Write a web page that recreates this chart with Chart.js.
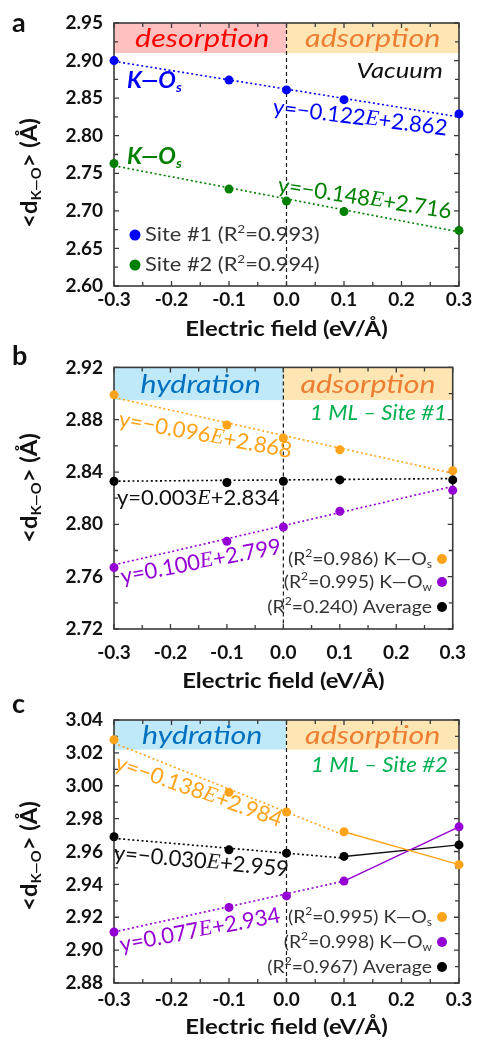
<!DOCTYPE html>
<html>
<head>
<meta charset="utf-8">
<script src="https://cdn.jsdelivr.net/npm/chart.js@4.4.1/dist/chart.umd.min.js"></script>
<style>
  html, body { margin: 0; padding: 0; background: #fff; }
  #wrap { position: relative; width: 478px; height: 1040px; overflow: hidden; }
  canvas { position: absolute; left: 0; }
</style>
</head>
<body>
<div id="wrap">
  <canvas id="chartA" width="478" height="345" style="top:0"></canvas>
  <canvas id="chartB" width="478" height="345" style="top:345px"></canvas>
  <canvas id="chartC" width="478" height="350" style="top:690px"></canvas>
</div>
<script>
/* ---------- data ---------- */
var FIELD   = [-0.3, -0.1, 0.0, 0.1, 0.3];        // eV/Å
var X_TICKS = [-0.3, -0.2, -0.1, 0.0, 0.1, 0.2, 0.3];
var FIT_X   = [-0.3, 0.3];
var FIT_X_C = [-0.3, 0.1];
var BAND_SPLIT = 0.0;

// (a) vacuum
var A_SITE1 = [2.900, 2.874, 2.861, 2.848, 2.829];
var A_SITE2 = [2.763, 2.729, 2.713, 2.699, 2.674];
var A_FIT1  = [2.899, 2.825];
var A_FIT2  = [2.760, 2.672];
var A_YTICKS = [2.60, 2.65, 2.70, 2.75, 2.80, 2.85, 2.90, 2.95];
var A_BAND_LO = 2.91;

// (b) 1 ML - site #1
var B_KOS = [2.899, 2.876, 2.866, 2.857, 2.841];
var B_KOW = [2.767, 2.787, 2.798, 2.810, 2.826];
var B_AVG = [2.833, 2.832, 2.833, 2.834, 2.834];
var B_FIT_OS  = [2.897, 2.839];
var B_FIT_OW  = [2.769, 2.829];
var B_FIT_AVG = [2.833, 2.835];
var B_YTICKS = [2.72, 2.76, 2.80, 2.84, 2.88, 2.92];
var B_BAND_LO = 2.895;

// (c) 1 ML - site #2
var C_KOS = [3.028, 2.996, 2.984, 2.972, 2.952];
var C_KOW = [2.911, 2.926, 2.933, 2.942, 2.975];
var C_AVG = [2.969, 2.961, 2.959, 2.957, 2.964];
var C_FIT_OS  = [3.026, 2.970];
var C_FIT_OW  = [2.911, 2.942];
var C_FIT_AVG = [2.968, 2.956];
var C_YTICKS = [2.88, 2.90, 2.92, 2.94, 2.96, 2.98, 3.00, 3.02, 3.04];
var C_BAND_LO = 3.022;

/* ---------- styles ---------- */
var FONT  = 'Lato, "Open Sans", "DejaVu Sans", sans-serif';
var SERIF = '"Liberation Serif", "DejaVu Serif", serif';
var BLUE = '#0000ff', GREEN = '#008000', ORANGE = '#ffa31a', PURPLE = '#9400d3', BLACK = '#000000';
var PLOT_LEFT = 114, PLOT_RIGHT_PAD = 19;

function pts(xs, ys) { return xs.map(function(x, i) { return { x: x, y: ys[i] }; }); }
function dots(ys, color) {
  return { data: pts(FIELD, ys), backgroundColor: color, borderColor: color, pointRadius: 4.5,
           pointBorderWidth: 0, showLine: false, clip: false, order: 0 };
}
function fit(xs, ys, color) {
  return { data: pts(xs, ys), borderColor: color, borderWidth: 1.6, borderDash: [2, 2.6],
           pointRadius: 0, showLine: true, clip: false, order: 1 };
}
function seg(ys, color) {
  return { data: pts(FIELD.slice(3), ys.slice(3)), borderColor: color, borderWidth: 1.4,
           pointRadius: 0, showLine: true, clip: false, order: 1 };
}
function eq(a, b) { return [{ t: a }, { t: 'E', serif: true, italic: true }, { t: b }]; }
function r2(pre, val, post) { return [{ t: pre + '(R' }, { t: '2', sup: true }, { t: '=' + val + ')' + post }]; }

// text with sub/superscripts, optional rotation and horizontal stretch
function drawRich(ctx, parts, x, y, o) {
  var size = o.size, sx = o.sx || 1;
  function fontOf(p) {
    var s = (p.sub || p.sup) ? size * 0.62 : size;
    return ((p.italic || o.italic) ? 'italic ' : '') + (o.bold ? 'bold ' : '') + s + 'px ' + (p.serif ? SERIF : FONT);
  }
  var widths = parts.map(function(p) { ctx.font = fontOf(p); return ctx.measureText(p.t).width; });
  var total = widths.reduce(function(s, w) { return s + w; }, 0);
  ctx.save();
  ctx.translate(x, y);
  if (o.angle) ctx.rotate(o.angle * Math.PI / 180);
  ctx.scale(sx, 1);
  var cx = o.align === 'right' ? -total : (o.align === 'center' ? -total / 2 : 0);
  ctx.textAlign = 'left';
  ctx.textBaseline = 'middle';
  ctx.fillStyle = o.color || '#111';
  parts.forEach(function(p, i) {
    ctx.font = fontOf(p);
    var dy = p.sub ? size * 0.3 : (p.sup ? -size * 0.32 : 0);
    ctx.fillText(p.t, cx, dy);
    cx += widths[i];
  });
  ctx.restore();
}

function mids(arr) {
  var out = [];
  for (var i = 0; i < arr.length - 1; i++) out.push((arr[i] + arr[i + 1]) / 2);
  return out;
}

var decor = {
  id: 'decor',
  beforeDatasetsDraw: function(chart, args, o) {
    var ctx = chart.ctx, a = chart.chartArea, xs = chart.scales.x, ys = chart.scales.y;
    var xm = xs.getPixelForValue(BAND_SPLIT), yb = ys.getPixelForValue(o.bandLo);
    ctx.save();
    // region bands
    ctx.fillStyle = o.bandLeft;  ctx.fillRect(a.left, a.top, xm - a.left, yb - a.top);
    ctx.fillStyle = o.bandRight; ctx.fillRect(xm, a.top, a.right - xm, yb - a.top);
    var ty = (a.top + yb) / 2 + 1;
    drawRich(ctx, [{ t: o.leftText }], (a.left + xm) / 2 + 2, ty,
             { size: 26, italic: true, sx: 1.17, align: 'center', color: o.leftColor });
    drawRich(ctx, [{ t: o.rightText }], (xm + a.right) / 2, ty,
             { size: 26, italic: true, sx: 1.17, align: 'center', color: o.rightColor });
    // E = 0 dashed line
    ctx.strokeStyle = '#1a1a1a';
    ctx.lineWidth = 1.2;
    ctx.setLineDash([4, 3]);
    ctx.beginPath(); ctx.moveTo(xm, a.top); ctx.lineTo(xm, a.bottom); ctx.stroke();
    ctx.setLineDash([]);
    // frame
    ctx.strokeStyle = '#3a3a3a';
    ctx.lineWidth = 1.6;
    ctx.strokeRect(a.left, a.top, a.right - a.left, a.bottom - a.top);
    // inward ticks
    ctx.lineWidth = 1.3;
    ctx.beginPath();
    function yTick(v, len) {
      var p = ys.getPixelForValue(v);
      ctx.moveTo(a.left, p); ctx.lineTo(a.left + len, p);
      ctx.moveTo(a.right, p); ctx.lineTo(a.right - len, p);
    }
    function xTick(v, len) {
      var p = xs.getPixelForValue(v);
      ctx.moveTo(p, a.bottom); ctx.lineTo(p, a.bottom - len);
      ctx.moveTo(p, a.top); ctx.lineTo(p, a.top + len);
    }
    o.yTicks.forEach(function(v) { yTick(v, 5); });
    mids(o.yTicks).forEach(function(v) { yTick(v, 4); });
    X_TICKS.forEach(function(v) { xTick(v, 5); });
    mids(X_TICKS).forEach(function(v) { xTick(v, 4); });
    ctx.stroke();
    ctx.restore();
  },
  afterDraw: function(chart, args, o) {
    var ctx = chart.ctx, a = chart.chartArea;
    ctx.save();
    // panel letter
    ctx.font = 'bold 27px ' + FONT;
    ctx.fillStyle = '#111';
    ctx.textAlign = 'left';
    ctx.textBaseline = 'alphabetic';
    ctx.fillText(o.letter, 12, o.letterY);
    // axis titles
    drawRich(ctx, [{ t: '<d' }, { t: 'K—O', sub: true }, { t: '> (Å)' }], 30, o.yTitleY,
             { size: 22, bold: true, angle: -90, sx: 1.08, align: 'center', color: '#111' });
    drawRich(ctx, [{ t: 'Electric field (eV/Å)' }], (a.left + a.right) / 2, o.xTitleY,
             { size: 21, bold: true, sx: 1.14, align: 'center', color: '#111' });
    // annotations
    o.notes.forEach(function(n) { drawRich(ctx, n.parts, n.x, n.y, n); });
    // legend
    var L = o.legend;
    L.items.forEach(function(it, i) {
      var y = L.ys[i];
      ctx.fillStyle = it.color;
      ctx.beginPath(); ctx.arc(L.dotX, y, L.r, 0, Math.PI * 2); ctx.fill();
      drawRich(ctx, it.parts, L.textX, y, { size: L.size, sx: L.sx, align: L.align, color: '#333' });
    });
    ctx.restore();
  }
};

function makeChart(id, cfg) {
  var yt = cfg.decor.yTicks;
  return new Chart(document.getElementById(id), {
    type: 'scatter',
    data: { datasets: cfg.datasets },
    options: {
      responsive: false,
      animation: false,
      devicePixelRatio: 1,
      layout: { padding: { left: 0, right: PLOT_RIGHT_PAD, top: cfg.top, bottom: 0 } },
      plugins: { legend: { display: false }, tooltip: { enabled: false }, decor: cfg.decor },
      scales: {
        x: {
          type: 'linear', min: X_TICKS[0], max: X_TICKS[X_TICKS.length - 1],
          afterBuildTicks: function(s) { s.ticks = X_TICKS.map(function(v) { return { value: v }; }); },
          afterFit: function(s) { s.height = cfg.h - cfg.bottom; },
          grid: { display: false, drawTicks: false }, border: { display: false },
          ticks: { padding: cfg.xPad, color: '#111', maxRotation: 0, autoSkip: false,
                   font: { family: FONT, size: 19, weight: 'bold' },
                   callback: function(v) { return Math.abs(v) < 1e-9 ? '0.0' : Number(v).toFixed(1); } }
        },
        y: {
          type: 'linear', min: yt[0], max: yt[yt.length - 1],
          afterBuildTicks: function(s) { s.ticks = yt.map(function(v) { return { value: v }; }); },
          afterFit: function(s) { s.width = PLOT_LEFT; },
          grid: { display: false, drawTicks: false }, border: { display: false },
          ticks: { padding: 11, color: '#111', autoSkip: false,
                   font: { family: FONT, size: 19, weight: 'bold' },
                   callback: function(v) { return Number(v).toFixed(2); } }
        }
      }
    },
    plugins: [decor]
  });
}

var KOS = [{ t: 'K—O' }, { t: 's', sub: true }];
var KOW = [{ t: 'K—O' }, { t: 'w', sub: true }];

makeChart('chartA', {
  h: 345, top: 23, bottom: 286, xPad: 2,
  datasets: [dots(A_SITE1, BLUE), dots(A_SITE2, GREEN), fit(FIT_X, A_FIT1, BLUE), fit(FIT_X, A_FIT2, GREEN)],
  decor: {
    yTicks: A_YTICKS, bandLo: A_BAND_LO,
    bandLeft: '#ffc0c0', bandRight: '#fee6b4',
    leftText: 'desorption', leftColor: '#ff0000', rightText: 'adsorption', rightColor: '#ed7d31',
    letter: 'a', letterY: 32, yTitleY: 173, xTitleY: 329,
    notes: [
      { parts: KOS, x: 127, y: 81, size: 22, italic: true, bold: true, sx: 1.06, color: BLUE },
      { parts: KOS, x: 127, y: 157, size: 22, italic: true, bold: true, sx: 1.06, color: GREEN },
      { parts: [{ t: 'Vacuum' }], x: 443, y: 71, size: 21, italic: true, sx: 1.22, align: 'right', color: '#111' },
      { parts: eq('y=−0.122', '+2.862'), x: 273, y: 107, angle: 7, size: 22, color: BLUE },
      { parts: eq('y=−0.148', '+2.716'), x: 278, y: 185, angle: 8.7, size: 22, color: GREEN }
    ],
    legend: { dotX: 135, textX: 145, r: 5.5, size: 19, sx: 1.15, align: 'left', ys: [235, 265],
      items: [ { parts: r2('Site #1 ', '0.993', ''), color: BLUE },
               { parts: r2('Site #2 ', '0.994', ''), color: GREEN } ] }
  }
});

makeChart('chartB', {
  h: 345, top: 21, bottom: 284, xPad: 12,
  datasets: [dots(B_KOS, ORANGE), dots(B_KOW, PURPLE), dots(B_AVG, BLACK),
             fit(FIT_X, B_FIT_OS, ORANGE), fit(FIT_X, B_FIT_OW, PURPLE), fit(FIT_X, B_FIT_AVG, BLACK)],
  decor: {
    yTicks: B_YTICKS, bandLo: B_BAND_LO,
    bandLeft: '#bfe8f8', bandRight: '#fee6b4',
    leftText: 'hydration', leftColor: '#0070c0', rightText: 'adsorption', rightColor: '#ed7d31',
    letter: 'b', letterY: 20, yTitleY: 143, xTitleY: 336,
    notes: [
      { parts: [{ t: '1 ML – Site #1' }], x: 447, y: 68, size: 21, italic: true, sx: 1.06, align: 'right', color: '#00b050' },
      { parts: eq('y=−0.096', '+2.868'), x: 119, y: 74, angle: 10.5, size: 22, color: ORANGE },
      { parts: eq('y=0.003', '+2.834'), x: 117, y: 153, size: 22, color: '#111' },
      { parts: eq('y=0.100', '+2.799'), x: 121, y: 232, angle: -10.8, size: 22, color: PURPLE }
    ],
    legend: { dotX: 442, textX: 432, r: 5, size: 18, sx: 1.08, align: 'right', ys: [214, 237, 262],
      items: [ { parts: r2('', '0.986', ' ').concat(KOS), color: ORANGE },
               { parts: r2('', '0.995', ' ').concat(KOW), color: PURPLE },
               { parts: r2('', '0.240', ' Average'), color: BLACK } ] }
  }
});

makeChart('chartC', {
  h: 350, top: 30, bottom: 293, xPad: 5,
  datasets: [dots(C_KOS, ORANGE), dots(C_KOW, PURPLE), dots(C_AVG, BLACK),
             fit(FIT_X_C, C_FIT_OS, ORANGE), fit(FIT_X_C, C_FIT_OW, PURPLE), fit(FIT_X_C, C_FIT_AVG, BLACK),
             seg(C_KOS, ORANGE), seg(C_KOW, PURPLE), seg(C_AVG, '#111')],
  decor: {
    yTicks: C_YTICKS, bandLo: C_BAND_LO,
    bandLeft: '#bfe8f8', bandRight: '#fee6b4',
    leftText: 'hydration', leftColor: '#0070c0', rightText: 'adsorption', rightColor: '#ed7d31',
    letter: 'c', letterY: 23, yTitleY: 166, xTitleY: 337,
    notes: [
      { parts: [{ t: '1 ML – Site #2' }], x: 448, y: 75, size: 21, italic: true, sx: 1.06, align: 'right', color: '#00b050' },
      { parts: eq('y=−0.138', '+2.984'), x: 116, y: 72, angle: 19.5, size: 22, color: ORANGE },
      { parts: eq('y=−0.030', '+2.959'), x: 114, y: 163, angle: 5.4, size: 22, color: '#111' },
      { parts: eq('y=0.077', '+2.934'), x: 120, y: 255, angle: -10.6, size: 22, color: PURPLE }
    ],
    legend: { dotX: 442, textX: 432, r: 5, size: 18, sx: 1.08, align: 'right', ys: [227, 252, 277],
      items: [ { parts: r2('', '0.995', ' ').concat(KOS), color: ORANGE },
               { parts: r2('', '0.998', ' ').concat(KOW), color: PURPLE },
               { parts: r2('', '0.967', ' Average'), color: BLACK } ] }
  }
});
</script>
</body>
</html>
